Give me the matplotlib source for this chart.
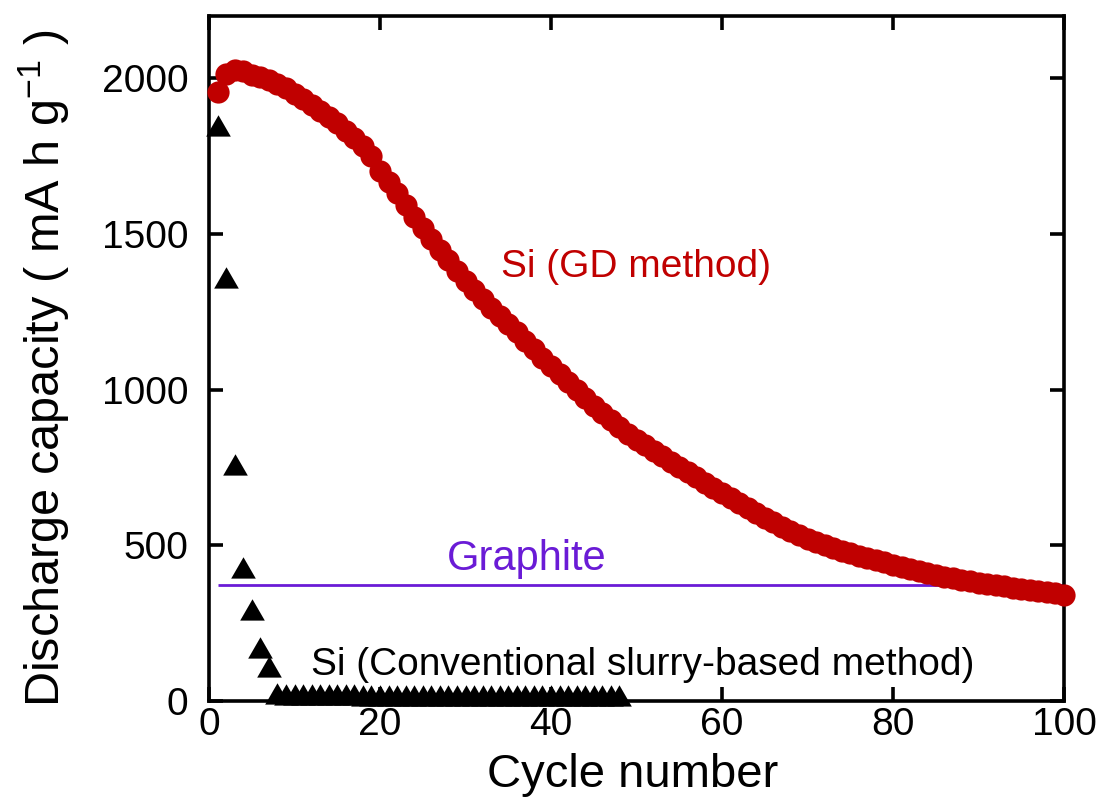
import matplotlib
matplotlib.use("Agg")
import matplotlib.pyplot as plt

plt.rcParams['font.family'] = ['Liberation Sans', 'DejaVu Sans']
plt.rcParams['mathtext.fontset'] = 'custom'
plt.rcParams['mathtext.rm'] = 'Liberation Sans'
plt.rcParams['mathtext.it'] = 'Liberation Sans:italic'
plt.rcParams['mathtext.bf'] = 'Liberation Sans:bold'

# discharge capacity (mA h g-1) per cycle
gd_cycles = list(range(1, 101))
gd_capacity = [
    1955, 2015, 2027, 2024, 2012, 2003, 1993, 1982, 1968, 1950,
    1933, 1915, 1896, 1876, 1855, 1832, 1808, 1782, 1750, 1702,
    1668, 1632, 1594, 1555, 1518, 1483, 1449, 1415, 1382, 1350,
    1321, 1292, 1263, 1235, 1212, 1184, 1156, 1129, 1102, 1076,
    1050, 1024, 998, 972, 947, 925, 903, 881, 859, 838,
    821, 804, 786, 769, 752, 735, 718, 701, 684, 667,
    651, 635, 619, 603, 588, 574, 560, 546, 533, 520,
    510, 501, 492, 483, 475, 467, 459, 452, 445, 438,
    431, 424, 418, 411, 405, 399, 394, 389, 384, 380,
    376, 372, 368, 364, 360, 356, 353, 349, 346, 342,
]

slurry_cycles = list(range(1, 49))
slurry_capacity = [
    1838, 1348, 748, 416, 282, 159, 98, 12, 11, 10,
    10, 10, 9, 9, 9, 9, 9, 8, 8, 8,
    8, 8, 8, 8, 8, 7, 7, 7, 7, 7,
    7, 7, 7, 7, 7, 7, 7, 6, 6, 6,
    6, 6, 6, 6, 6, 6, 6, 6,
]

graphite_capacity = 372

red = '#c00000'
purple = '#6a1bd6'

fig = plt.figure(figsize=(11.05, 8.06), dpi=100)
ax = fig.add_axes([209 / 1105, 105 / 806, 855 / 1105, 685 / 806])

ax.hlines(graphite_capacity, 1, 100, color=purple, linewidth=2.0, zorder=2)
ax.plot(gd_cycles, gd_capacity, linestyle='none', marker='o', markersize=16,
        color=red, markeredgewidth=0, zorder=3, clip_on=False)
ax.plot(slurry_cycles, slurry_capacity, linestyle='none', marker=(3, 0, 0),
        markersize=20.5, color='black', markeredgewidth=0, zorder=4, clip_on=False)

ax.text(34.2, 1361, 'Si (GD method)', color=red, fontsize=28, va='baseline')
ax.text(27.8, 420, 'Graphite', color=purple, fontsize=30, va='baseline')
ax.text(11.9, 83, 'Si (Conventional slurry-based method)', color='black',
        fontsize=28, va='baseline')

ax.set_xlim(0, 100)
ax.set_ylim(0, 2200)
ax.set_xticks([0, 20, 40, 60, 80, 100])
ax.set_yticks([0, 500, 1000, 1500, 2000])

for side in ax.spines.values():
    side.set_linewidth(2.6)
ax.tick_params(direction='in', length=10, width=2.6, top=True, right=True,
               labelsize=28)
ax.tick_params(axis='x', pad=4)
ax.tick_params(axis='y', pad=15)

ax.set_xlabel('Cycle number', fontsize=34)
ax.set_ylabel('Discharge capacity ( mA h g$^{-1}$ )', fontsize=35)
ax.xaxis.set_label_coords(0.496, -0.076)
ax.yaxis.set_label_coords(-0.160, 0.485)

fig.savefig('out.png', dpi=100)
